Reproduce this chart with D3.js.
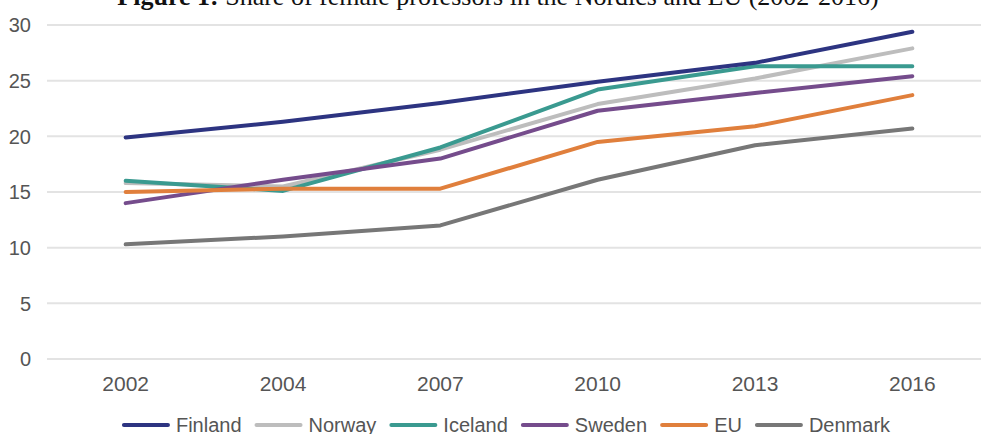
<!DOCTYPE html>
<html>
<head>
<meta charset="utf-8">
<script src="https://cdn.jsdelivr.net/npm/d3@7"></script>
<style>
  html, body { margin: 0; padding: 0; background: #fff; }
  svg { display: block; }
</style>
</head>
<body>
<div id="chart"></div>
<script>
const years = ['2002', '2004', '2007', '2010', '2013', '2016'];
const yTicks = [0, 5, 10, 15, 20, 25, 30];

const finland = [19.9, 21.3, 23.0, 24.9, 26.6, 29.4];
const norway = [15.8, 15.5, 18.8, 22.9, 25.2, 27.9];
const iceland = [16.0, 15.1, 19.0, 24.2, 26.3, 26.3];
const sweden = [14.0, 16.1, 18.0, 22.3, 23.9, 25.4];
const eu = [15.0, 15.3, 15.3, 19.5, 20.9, 23.7];
const denmark = [10.3, 11.0, 12.0, 16.1, 19.2, 20.7];

const legendOrder = ['Finland', 'Norway', 'Iceland', 'Sweden', 'EU', 'Denmark'];
const titleBold = 'Figure 1:';
const titleRest = ' Share of female professors in the Nordics and EU (2002-2016)';

const series = [
    { key: 'Denmark', values: denmark, color: '#777777' },
    { key: 'Norway', values: norway, color: '#bdbdbd' },
    { key: 'Iceland', values: iceland, color: '#3a9a90' },
    { key: 'Sweden', values: sweden, color: '#754c8c' },
    { key: 'EU', values: eu, color: '#e07f3c' },
    { key: 'Finland', values: finland, color: '#2d3481' }
];
const colorOf = new Map(series.map(s => [s.key, s.color]));

const W = 981, H = 434;
const font = 'Arial, "Liberation Sans", sans-serif';

const svg = d3.select('#chart').append('svg')
    .attr('width', W)
    .attr('height', H);

const x = d3.scaleBand().domain(years).range([47, 991]);
const y = d3.scaleLinear().domain([0, 30]).range([359, 25]);
const cx = d => x(d) + x.bandwidth() / 2;

// title, mostly cropped off the top
const title = svg.append('text')
    .attr('x', 498)
    .attr('y', 5)
    .attr('text-anchor', 'middle')
    .style('font-family', '"Times New Roman", "Liberation Serif", serif')
    .style('font-size', '26px')
    .attr('fill', '#111');
title.append('tspan').style('font-weight', 'bold').text(titleBold);
title.append('tspan').text(titleRest);

// gridlines + y labels
const yAxis = svg.append('g');
yAxis.selectAll('line')
    .data(yTicks)
    .enter().append('line')
    .attr('x1', 47)
    .attr('x2', W)
    .attr('y1', d => y(d))
    .attr('y2', d => y(d))
    .attr('stroke', '#e3e3e3')
    .attr('stroke-width', 2);
yAxis.selectAll('text')
    .data(yTicks)
    .enter().append('text')
    .attr('x', 31)
    .attr('y', d => y(d))
    .attr('dy', '0.36em')
    .attr('text-anchor', 'end')
    .style('font-family', font)
    .style('font-size', '20px')
    .attr('fill', '#555')
    .text(d => d);

// x labels
svg.append('g').selectAll('text')
    .data(years)
    .enter().append('text')
    .attr('x', d => cx(d))
    .attr('y', 391)
    .attr('text-anchor', 'middle')
    .style('font-family', font)
    .style('font-size', '21px')
    .attr('fill', '#555')
    .text(d => d);

const line = d3.line()
    .x((d, i) => cx(years[i]))
    .y(d => y(d));

svg.append('g').selectAll('path')
    .data(series)
    .enter().append('path')
    .attr('fill', 'none')
    .attr('stroke', d => d.color)
    .attr('stroke-width', 4)
    .attr('stroke-linecap', 'round')
    .attr('stroke-linejoin', 'round')
    .attr('d', d => line(d.values));

// legend
const legend = svg.append('g');
const lineLen = 44, lineGap = 8, itemGap = 15;
const items = legendOrder.map(k => {
    const g = legend.append('g');
    g.append('line')
        .attr('x1', 0).attr('x2', lineLen)
        .attr('y1', 425).attr('y2', 425)
        .attr('stroke', colorOf.get(k))
        .attr('stroke-width', 4)
        .attr('stroke-linecap', 'round');
    const t = g.append('text')
        .attr('x', lineLen + lineGap)
        .attr('y', 432)
        .style('font-family', font)
        .style('font-size', '20px')
        .attr('fill', '#555')
        .text(k);
    return { g, w: lineLen + lineGap + t.node().getComputedTextLength() };
});
const total = d3.sum(items, d => d.w) + itemGap * (items.length - 1);
let pos = 507 - total / 2;
items.forEach(it => {
    it.g.attr('transform', `translate(${pos},0)`);
    pos += it.w + itemGap;
});
</script>
</body>
</html>
